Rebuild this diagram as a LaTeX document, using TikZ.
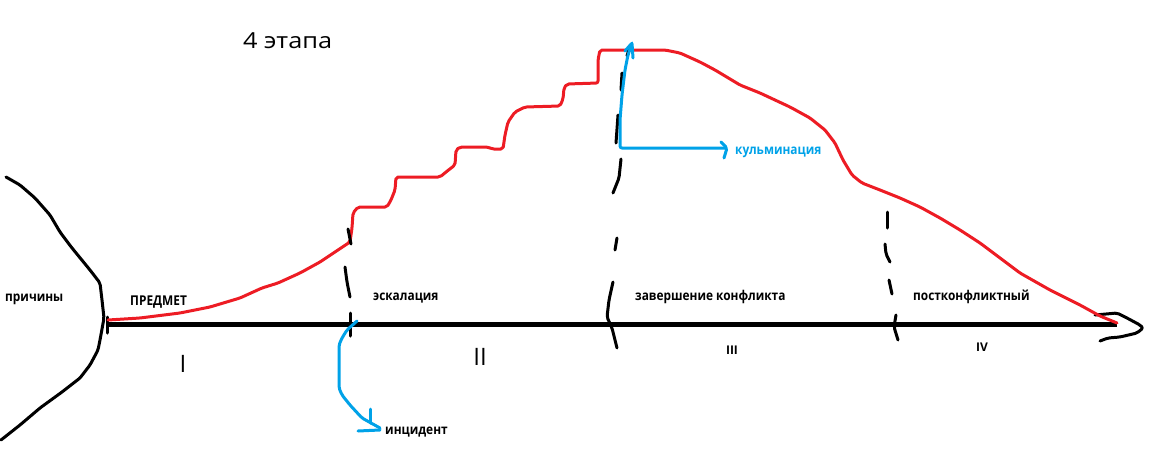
\documentclass[tikz,border=0pt]{standalone}
\usepackage{fontspec}
\setmainfont{Open Sans}
\definecolor{pred}{HTML}{ED1C24}
\definecolor{pblue}{HTML}{00A2E8}
\newcommand{\hsq}[1]{\scalebox{0.88}[1]{#1}}
\tikzset{
  sketch/.style={line width=3pt, line cap=round, line join=round, rounded corners=2pt},
  redline/.style={sketch, draw=pred},
  blueline/.style={sketch, draw=pblue},
  blackline/.style={sketch, draw=black},
  axisline/.style={line width=5pt, draw=black},
  lbl/.style={font=\fontsize{13.5}{15}\selectfont\bfseries, anchor=base west, inner sep=0pt},
  roman/.style={font=\fontsize{24}{28}\selectfont, anchor=base, inner sep=0pt},
  romanb/.style={font=\fontsize{12}{14}\selectfont\bfseries, anchor=base, inner sep=0pt},
}
\begin{document}
\begin{tikzpicture}[x=1pt,y=-1pt]
\useasboundingbox (0,0) rectangle (1170,464);
% title
\node[anchor=base west, inner sep=0pt, font=\fontsize{22}{26}\selectfont] (title) at (243,48) {\scalebox{1.15}[1]{4 этапа}};
% axis
\coordinate (axstart) at (107,324);
\coordinate (axend) at (1117,324);
\draw[axisline] (axstart) -- (axend);
\draw[blackline] (107,317) -- (107,333);
% causes arc
\draw[blackline] (6,177) -- (20,185) -- (35,198) -- (50,215) -- (60,232) -- (72,248) -- (90,270) -- (100,283) -- (102,300) -- (104,318) -- (100,340) -- (98,350) -- (90,365) -- (80,378) -- (62,392) -- (40,408) -- (20,425) -- (1,440);
% right scribble arrow
\draw[blackline] (1095,315) -- (1117,313) -- (1127,318) -- (1140,325) -- (1143,328) -- (1137,333) -- (1120,337) -- (1108,338) -- (1100,341);
% red curve
\draw[redline] (108,320) -- (140,318) -- (180,313) -- (210,307) -- (240,298) -- (262,288) -- (278,283) -- (300,273) -- (320,262) -- (335,252) -- (350,242)
  -- (352,228) -- (353,213) -- (358,207) -- (387,207) -- (391,200) -- (395,190) -- (396,177) -- (440,177) -- (446,172) -- (455,165) -- (456,150) -- (460,147) -- (488,147) -- (492,149) -- (503,149) -- (505,135) -- (508,122) -- (515,112) -- (525,107) -- (560,106) -- (563,99) -- (564,88) -- (567,84) -- (598,83) -- (598,60) -- (600,50) -- (665,50)
  -- (680,53) -- (700,62) -- (715,70) -- (740,85) -- (760,93) -- (790,107) -- (810,118) -- (825,130) -- (835,143) -- (843,160) -- (852,175) -- (862,183) -- (880,190) -- (900,198) -- (920,207) -- (940,218) -- (960,230) -- (980,243) -- (1000,258) -- (1020,273) -- (1050,290) -- (1080,305) -- (1100,316) -- (1117,323);
% dashed boundary 1
\draw[blackline] (348,229) -- (351,244);
\draw[blackline] (345,267) -- (347,282) -- (350,297);
\draw[blackline] (350,313) -- (350,336);
% dashed boundary 2
\draw[blackline] (630,46) -- (627,56);
\draw[blackline] (622,73) -- (621,90);
\draw[blackline] (618,115) -- (616,143);
\draw[blackline] (621,159) -- (619,178) -- (613,193);
\draw[blackline] (617,238) -- (615,250);
\draw[blackline] (613,282) -- (609,300) -- (607,317) -- (612,328) -- (617,348);
% dashed boundary 3
\draw[blackline] (887,212) -- (887,228);
\draw[blackline] (885,244) -- (886,254) -- (890,262);
\draw[blackline] (889,280) -- (892,294);
\draw[blackline] (896,315) -- (894,327) -- (898,340);
% labels
\node[lbl] (causes) at (5,301) {\hsq{причины}};
\node[lbl] (subject) at (130,305) {\hsq{ПРЕДМЕТ}};
\node[lbl] (escal) at (373,300) {\hsq{эскалация}};
\node[lbl] (ending) at (635,300) {\hsq{завершение конфликта}};
\node[lbl] (post) at (913,300) {\hsq{постконфликтный}};
\node[lbl] (incident) at (385,434) {\hsq{инцидент}};
\node[lbl, text=pblue] (culm) at (735,154) {\hsq{кульминация}};
\node[roman] (r1) at (183,372) {I};
\node[roman] (r2) at (480,365) {II};
\node[romanb] (r3) at (732,354) {III};
\node[romanb] (r4) at (982,351) {IV};
% incident arrow
\coordinate (incfrom) at (357,321);
\draw[blueline] (incfrom) -- (347,330) -- (342,338) -- (339,345) -- (339,388) -- (342,395) -- (350,405) -- (362,418) -- (380,428);
\draw[blueline] (370,409) -- (370,423);
\draw[blueline] (358,431) -- (380,430);
% culmination arrow
\coordinate (culmtop) at (632,43);
\coordinate (culmcorner) at (620,148);
\draw[blueline] (culmtop) -- (628,55) -- (625,70) -- (622,95) -- (620,120) -- (culmcorner) -- (726,148);
\draw[blueline] (625,51) -- (632,43) -- (633,58);
\draw[blueline] (721,142) -- (727,148) -- (724,158);
\end{tikzpicture}
\end{document}
